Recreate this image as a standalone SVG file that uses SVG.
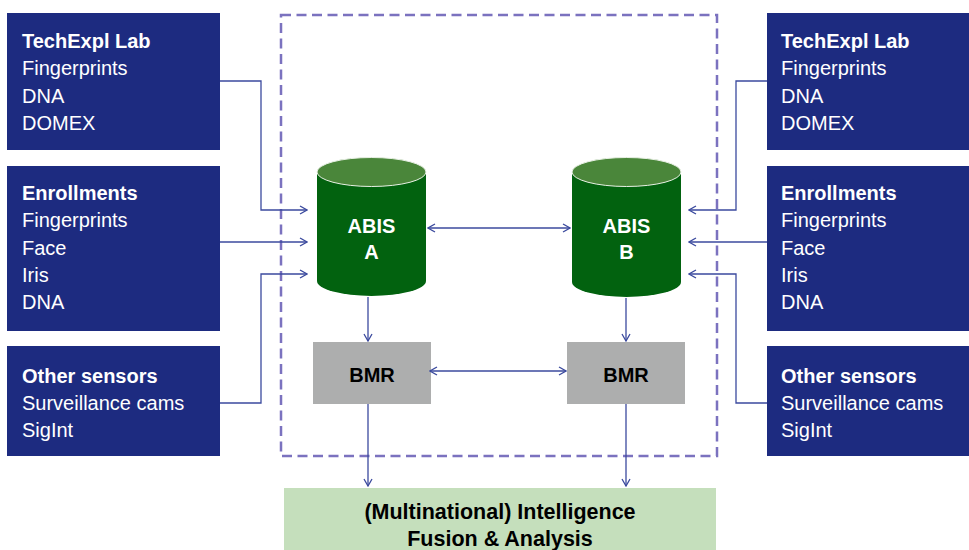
<svg xmlns="http://www.w3.org/2000/svg" width="969" height="550" viewBox="0 0 969 550">
<style>
.src{fill:#1d2b80}
.t{font-family:"Liberation Sans",Arial,sans-serif;font-size:20px;fill:#ffffff}
.b{font-weight:bold}
.c{font-family:"Liberation Sans",Arial,sans-serif;font-size:20px;font-weight:bold;text-anchor:middle}
.f{font-size:21.5px}
.ln{fill:none;stroke:#3b4a9e;stroke-width:1.3}
</style>
<defs>
<marker id="ah" viewBox="0 0 10 10" refX="9" refY="5" markerWidth="10" markerHeight="10" markerUnits="userSpaceOnUse" orient="auto-start-reverse">
<path d="M2,1 L9,5 L2,9" fill="none" stroke="#3b4a9e" stroke-width="1.3"/>
</marker>
</defs>
<rect width="969" height="550" fill="#ffffff"/>
<rect x="281" y="15" width="436" height="441" fill="none" stroke="#7b72bf" stroke-width="2.5" stroke-dasharray="10 5.5"/>

<g id="left-techexpl"><rect class="src" x="7" y="13" width="213" height="137"/>
<text class="t b" x="22" y="48">TechExpl Lab</text><text class="t" x="22" y="75">Fingerprints</text><text class="t" x="22" y="103">DNA</text><text class="t" x="22" y="130">DOMEX</text></g>
<g id="left-enroll"><rect class="src" x="7" y="166" width="213" height="165"/>
<text class="t b" x="22" y="200">Enrollments</text><text class="t" x="22" y="227">Fingerprints</text><text class="t" x="22" y="255">Face</text><text class="t" x="22" y="282">Iris</text><text class="t" x="22" y="309">DNA</text></g>
<g id="left-other"><rect class="src" x="7" y="346" width="213" height="110"/>
<text class="t b" x="22" y="383">Other sensors</text><text class="t" x="22" y="410">Surveillance cams</text><text class="t" x="22" y="437">SigInt</text></g>

<g id="right-techexpl"><rect class="src" x="767" y="13" width="202" height="137"/>
<text class="t b" x="781" y="48">TechExpl Lab</text><text class="t" x="781" y="75">Fingerprints</text><text class="t" x="781" y="103">DNA</text><text class="t" x="781" y="130">DOMEX</text></g>
<g id="right-enroll"><rect class="src" x="767" y="166" width="202" height="165"/>
<text class="t b" x="781" y="200">Enrollments</text><text class="t" x="781" y="227">Fingerprints</text><text class="t" x="781" y="255">Face</text><text class="t" x="781" y="282">Iris</text><text class="t" x="781" y="309">DNA</text></g>
<g id="right-other"><rect class="src" x="767" y="346" width="202" height="110"/>
<text class="t b" x="781" y="383">Other sensors</text><text class="t" x="781" y="410">Surveillance cams</text><text class="t" x="781" y="437">SigInt</text></g>

<g id="abis-a">
<path d="M317,172 L317,281 A54.5,15 0 0 0 426,281 L426,172 Z" fill="#02620f"/>
<ellipse cx="371.5" cy="172" rx="54.5" ry="14.5" fill="#4a863a" stroke="#e8f0e4" stroke-width="1"/>
<text class="c" x="371.5" y="233" fill="#ffffff">ABIS</text><text class="c" x="371.5" y="259" fill="#ffffff">A</text></g>
<g id="abis-b">
<path d="M572,172 L572,282 A54.5,15 0 0 0 681,282 L681,172 Z" fill="#02620f"/>
<ellipse cx="626.5" cy="172" rx="54.5" ry="14.5" fill="#4a863a" stroke="#e8f0e4" stroke-width="1"/>
<text class="c" x="626.5" y="233" fill="#ffffff">ABIS</text><text class="c" x="626.5" y="259" fill="#ffffff">B</text></g>

<g id="bmr-a"><rect x="313" y="342" width="118" height="62" fill="#adaeae"/><text class="c" x="372" y="382" fill="#000000">BMR</text></g>
<g id="bmr-b"><rect x="567" y="342" width="118" height="62" fill="#adaeae"/><text class="c" x="626" y="382" fill="#000000">BMR</text></g>

<g id="fusion"><rect x="284" y="488" width="432" height="62" fill="#c5dfbc"/>
<text class="c f" x="500" y="519" fill="#000000">(Multinational) Intelligence</text>
<text class="c f" x="500" y="546" fill="#000000">Fusion &amp; Analysis</text></g>

<g id="connectors" class="ln">
<path d="M220,81 H261 V210 H307" marker-end="url(#ah)"/>
<path d="M220,242 H307" marker-end="url(#ah)"/>
<path d="M220,403 H261 V274 H307" marker-end="url(#ah)"/>
<path d="M767,81 H736 V210 H689" marker-end="url(#ah)"/>
<path d="M767,242 H689" marker-end="url(#ah)"/>
<path d="M767,403 H736 V274 H689" marker-end="url(#ah)"/>
<path d="M428,228 H570" marker-start="url(#ah)" marker-end="url(#ah)"/>
<path d="M368,297 V341" marker-end="url(#ah)"/>
<path d="M626,298 V341" marker-end="url(#ah)"/>
<path d="M430,371 H566" marker-start="url(#ah)" marker-end="url(#ah)"/>
<path d="M368,404 V486" marker-end="url(#ah)"/>
<path d="M626,404 V486" marker-end="url(#ah)"/>
</g>
</svg>
